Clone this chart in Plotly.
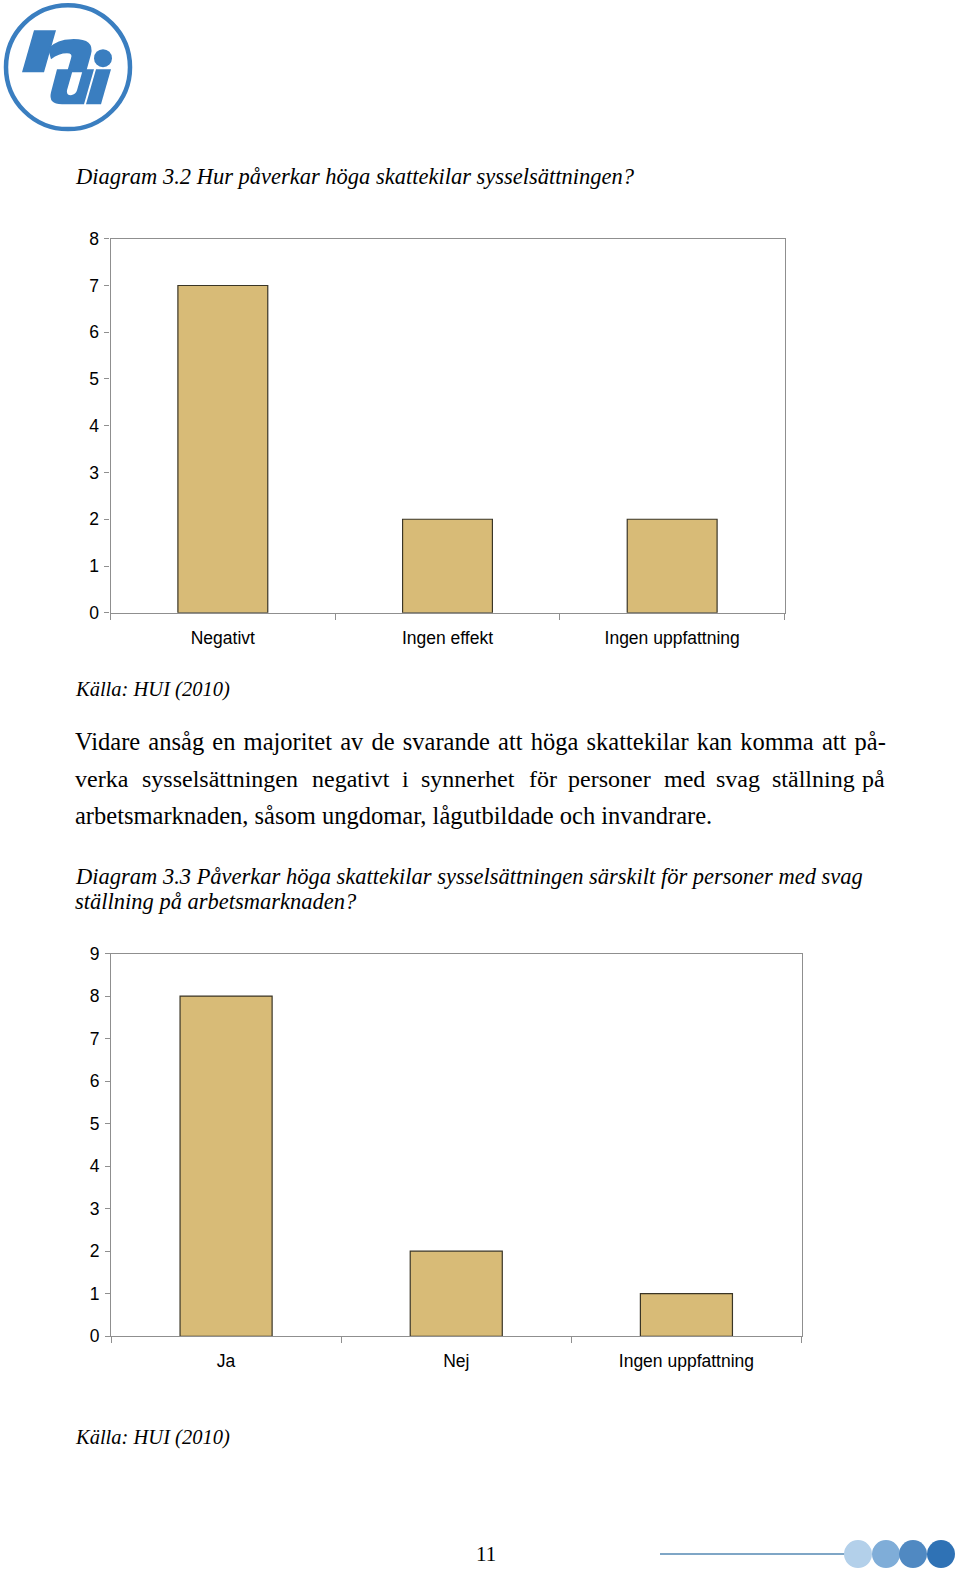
import plotly.graph_objects as go

W, H = 960, 1573

# ---- data ----
cats1 = ["Negativt", "Ingen effekt", "Ingen uppfattning"]
vals1 = [7, 2, 2]
yticks1 = list(range(0, 9))

cats2 = ["Ja", "Nej", "Ingen uppfattning"]
vals2 = [8, 2, 1]
yticks2 = list(range(0, 10))

title1 = "Diagram 3.2 Hur påverkar höga skattekilar sysselsättningen?"
title2_l1 = "Diagram 3.3 Påverkar höga skattekilar sysselsättningen särskilt för personer med svag"
title2_l2 = "ställning på arbetsmarknaden?"
source = "Källa: HUI (2010)"
para_l1 = "Vidare ansåg en majoritet av de svarande att höga skattekilar kan komma att på-"
para_l2_words = ["verka", "sysselsättningen", "negativt", "i", "synnerhet", "för",
                 "personer", "med", "svag", "ställning", "på"]
para_l3 = "arbetsmarknaden, såsom ungdomar, lågutbildade och invandrare."
page_no = "11"

BAR = "#D8BB77"
EDGE = "#3a3526"
AX = "#8f8f8f"
BLUE = "#3A7EC0"
SERIF = "Liberation Serif, Times New Roman, serif"
SANS = "Liberation Sans, Arial, sans-serif"


def X(px):
    return px / W


def Y(py):
    d = (py - 7.8) / 0.988
    return 1 - d / H


fig = go.Figure()
fig.add_trace(go.Bar(x=cats1, y=vals1, xaxis="x", yaxis="y", width=0.4,
                     marker=dict(color=BAR, line=dict(color=EDGE, width=1.2)),
                     showlegend=False, hoverinfo="x+y"))
fig.add_trace(go.Bar(x=cats2, y=vals2, xaxis="x2", yaxis="y2", width=0.4,
                     marker=dict(color=BAR, line=dict(color=EDGE, width=1.2)),
                     showlegend=False, hoverinfo="x+y"))

xax = dict(showline=True, linecolor=AX, linewidth=1.2, mirror=True, ticks="outside",
           tickson="boundaries", ticklen=6, tickcolor=AX, showgrid=False,
           ticklabelstandoff=9,
           tickfont=dict(family=SANS, size=17.5, color="#000"), fixedrange=True)
yax = dict(showline=True, linecolor=AX, linewidth=1.2, mirror=True, ticks="outside",
           ticklen=5, tickcolor=AX, showgrid=False, zeroline=False,
           ticklabelstandoff=2,
           tickfont=dict(family=SANS, size=17.5, color="#000"), fixedrange=True)

fig.update_layout(
    width=W, height=H, margin=dict(l=0, r=0, t=0, b=0),
    paper_bgcolor="white", plot_bgcolor="white",
    xaxis=dict(xax, domain=[X(110.5), X(784.5)], anchor="y"),
    yaxis=dict(yax, domain=[Y(611), Y(236.7)], range=[0, 8], tickvals=yticks1, anchor="x"),
    xaxis2=dict(xax, domain=[X(111), X(801.5)], anchor="y2"),
    yaxis2=dict(yax, domain=[Y(1335), Y(952)], range=[0, 9], tickvals=yticks2, anchor="x2"),
    bargap=0.6,
)

ann = []


def text(t, x, y, size, family=SERIF, italic=False, xanchor="left", color="#000"):
    ann.append(dict(text=t, x=X(x), y=Y(y), xref="paper", yref="paper",
                    xanchor=xanchor, yanchor="middle", showarrow=False,
                    font=dict(family=family, size=size, color=color,
                              style="italic" if italic else "normal")))


text(title1, 72.5, 174.5, 22.5, italic=True)
text(source, 72.5, 688, 20.5, italic=True)
text(para_l1.replace(" ", " \u200a"), 72.5, 740, 24.5)
l2x = [72.5, 139.5, 310, 400, 419, 526.5, 565.5, 661.5, 713.5, 770, 860]
for w_, x_ in zip(para_l2_words, l2x):
    text(w_, x_, 777, 24)
text(para_l3, 72.5, 813.5, 24.5)
text(title2_l1, 72.5, 874.7, 22.5, italic=True)
text(title2_l2, 72.5, 899.8, 22.5, italic=True)
text(source, 72.5, 1436.4, 20.5, italic=True)
text(page_no, 486, 1553, 21, xanchor="center")

fig.update_layout(annotations=ann)

shapes = []


def path(cmds):
    out = []
    for c in cmds:
        if isinstance(c, str):
            out.append(c)
        else:
            out.append(f"{X(c[0]):.5f},{Y(c[1]):.5f}")
    return " ".join(out)


def filled(cmds):
    shapes.append(dict(type="path", xref="paper", yref="paper", fillcolor=BLUE,
                       line=dict(width=0), path=path(cmds)))


# logo circle
shapes.append(dict(type="circle", xref="paper", yref="paper",
                   x0=X(6), x1=X(130), y0=Y(127), y1=Y(3),
                   line=dict(color=BLUE, width=4.5), fillcolor="rgba(0,0,0,0)"))
# h stem
filled(["M", (34, 28), "L", (56, 28), "L", (44, 70), "L", (22, 70), "Z"])
# h arch + right leg
filled(["M", (48, 46), "Q", (58, 37), (71, 37), "Q", (95, 36), (91, 52),
        "L", (86, 70), "L", (67, 70), "L", (71, 56), "Q", (73, 51), (67, 51),
        "Q", (59, 51), (51, 57), "Z"])
# u
filled(["M", (57, 67), "L", (73, 67), "L", (67, 88), "Q", (66, 93), (71, 93),
        "Q", (76, 92), (77, 88), "L", (83, 67), "L", (94, 67), "L", (84, 102),
        "L", (62, 102), "Q", (48, 102), (51, 90), "Z"])
# i stem
filled(["M", (96, 67), "L", (111, 67), "L", (101, 102), "L", (86, 102), "Z"])
# i dot
shapes.append(dict(type="circle", xref="paper", yref="paper", fillcolor=BLUE, line=dict(width=0),
                   x0=X(94), x1=X(112), y0=Y(65), y1=Y(47)))

# footer decoration
shapes.append(dict(type="line", xref="paper", yref="paper", x0=X(660), x1=X(850),
                   y0=Y(1553), y1=Y(1553), line=dict(color="#7FA6C6", width=2)))
for cx, col in zip([858, 886, 913, 941], ["#B3D0EA", "#7FADD8", "#5089C2", "#2F72B5"]):
    shapes.append(dict(type="circle", xref="paper", yref="paper", fillcolor=col, line=dict(width=0),
                       x0=X(cx - 14), x1=X(cx + 14), y0=Y(1567), y1=Y(1539)))

fig.update_layout(shapes=shapes)
fig.write_html("out.html")
